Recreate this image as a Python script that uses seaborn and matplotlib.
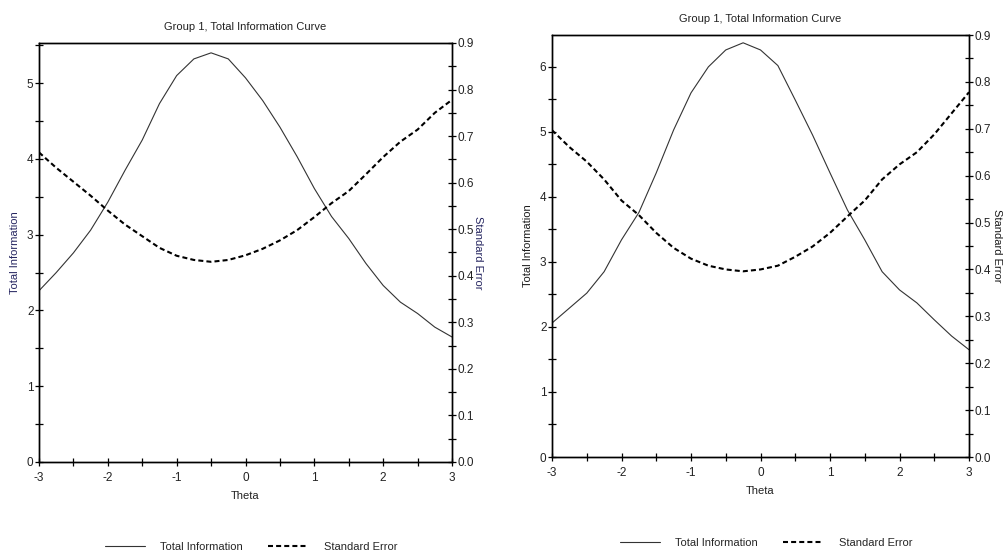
import numpy as np
import matplotlib
matplotlib.use('Agg')
import matplotlib.pyplot as plt
import seaborn as sns
from matplotlib.ticker import MultipleLocator, FormatStrFormatter

# theta grid (x axis)
theta = [-3.0, -2.75, -2.5, -2.25, -2.0, -1.75, -1.5, -1.25, -1.0, -0.75, -0.5, -0.25,
         0.0, 0.25, 0.5, 0.75, 1.0, 1.25, 1.5, 1.75, 2.0, 2.25, 2.5, 2.75, 3.0]

# left panel
info_a = [2.26, 2.50, 2.76, 3.06, 3.43, 3.85, 4.25, 4.73, 5.10, 5.32, 5.40, 5.32,
          5.07, 4.77, 4.42, 4.03, 3.61, 3.24, 2.95, 2.62, 2.33, 2.11, 1.96, 1.78, 1.65]
se_a = [0.665, 0.632, 0.602, 0.572, 0.540, 0.510, 0.485, 0.460, 0.443, 0.434, 0.430, 0.434,
        0.444, 0.458, 0.476, 0.498, 0.526, 0.556, 0.582, 0.618, 0.655, 0.688, 0.714, 0.750, 0.778]

# right panel
info_b = [2.06, 2.29, 2.52, 2.85, 3.34, 3.76, 4.37, 5.03, 5.60, 6.00, 6.26, 6.37,
          6.26, 6.02, 5.49, 4.95, 4.37, 3.80, 3.34, 2.85, 2.57, 2.37, 2.11, 1.86, 1.65]
se_b = [0.697, 0.661, 0.630, 0.592, 0.547, 0.516, 0.478, 0.446, 0.423, 0.408, 0.400, 0.396,
        0.400, 0.408, 0.427, 0.449, 0.478, 0.513, 0.547, 0.592, 0.624, 0.650, 0.688, 0.733, 0.778]

title = 'Group 1, Total Information Curve'

sns.set_theme(style='white')
plt.rcParams['font.family'] = ['Liberation Sans', 'DejaVu Sans']
plt.rcParams['axes.unicode_minus'] = False
plt.rcParams['font.size'] = 8

W, H = 1006, 553
fig = plt.figure(figsize=(W / 100, H / 100), dpi=100)
fig.patch.set_facecolor('white')


def px_axes(x0, x1, y_top, y_bot):
    return fig.add_axes([x0 / W, (H - y_bot) / H, (x1 - x0) / W, (y_bot - y_top) / H])


def draw_panel(ax, info, se, ymax, lab_color, legend_x, legend_y, ylab_x, selab_x):
    sns.lineplot(x=theta, y=info, ax=ax, color='#333333', lw=0.8, legend=False)
    ax2 = ax.twinx()
    sns.lineplot(x=theta, y=se, ax=ax2, color='black', lw=1.5,
                 linestyle=(0, (2.4, 1.5)), legend=False)

    ax.set_xlim(-3, 3)
    ax.set_ylim(0, ymax)
    ax2.set_ylim(0, 0.9)

    ax.xaxis.set_major_locator(MultipleLocator(1))
    ax.xaxis.set_minor_locator(MultipleLocator(0.5))
    ax.yaxis.set_major_locator(MultipleLocator(1))
    ax.yaxis.set_minor_locator(MultipleLocator(0.5))
    ax2.yaxis.set_major_locator(MultipleLocator(0.1))
    ax2.yaxis.set_minor_locator(MultipleLocator(0.05))
    ax2.yaxis.set_major_formatter(FormatStrFormatter('%.1f'))

    for a in (ax, ax2):
        a.tick_params(which='both', direction='inout', length=6, width=0.9,
                      color='black', labelsize=8.5, pad=1, labelcolor='#222222')
        for sp in a.spines.values():
            sp.set_color('black')
            sp.set_linewidth(1.0)
    ax.tick_params(axis='x', which='both', bottom=True, pad=4.5)
    ax.tick_params(axis='y', which='both', left=True)
    ax2.tick_params(axis='y', which='both', right=True)

    ax.set_xlabel('Theta', fontsize=8, color='#222222', va='center')
    ax.set_ylabel('Total Information', fontsize=8, color=lab_color,
                  ha='center', va='center', rotation_mode='anchor')
    ax2.set_ylabel('Standard Error', fontsize=8, rotation=270, color=lab_color,
                   ha='center', va='center', rotation_mode='anchor')
    ax.xaxis.set_label_coords(0.5, -0.081)
    ax.yaxis.set_label_coords(ylab_x, 0.5)
    ax2.yaxis.set_label_coords(selab_x, 0.5)
    ax.set_title(title, fontsize=8, pad=9, color='#222222')
    ax.grid(False)
    ax2.grid(False)

    handles = [ax.lines[0], ax2.lines[0]]
    fig.legend(handles, ['Total Information', 'Standard Error'], loc='center',
               bbox_to_anchor=(legend_x / W, (H - legend_y) / H), ncol=2, frameon=False,
               fontsize=8, handlelength=3.6, handletextpad=1.4, columnspacing=2.3)


ax_l = px_axes(39, 452, 43, 462)
draw_panel(ax_l, info_a, se_a, 5.53, '#252560', 251, 547, -0.058, 1.063)

ax_r = px_axes(552, 969, 35, 457)
draw_panel(ax_r, info_b, se_b, 6.49, '#1a1a1a', 766, 543, -0.058, 1.067)

fig.savefig('out.png', dpi=100, facecolor='white')
